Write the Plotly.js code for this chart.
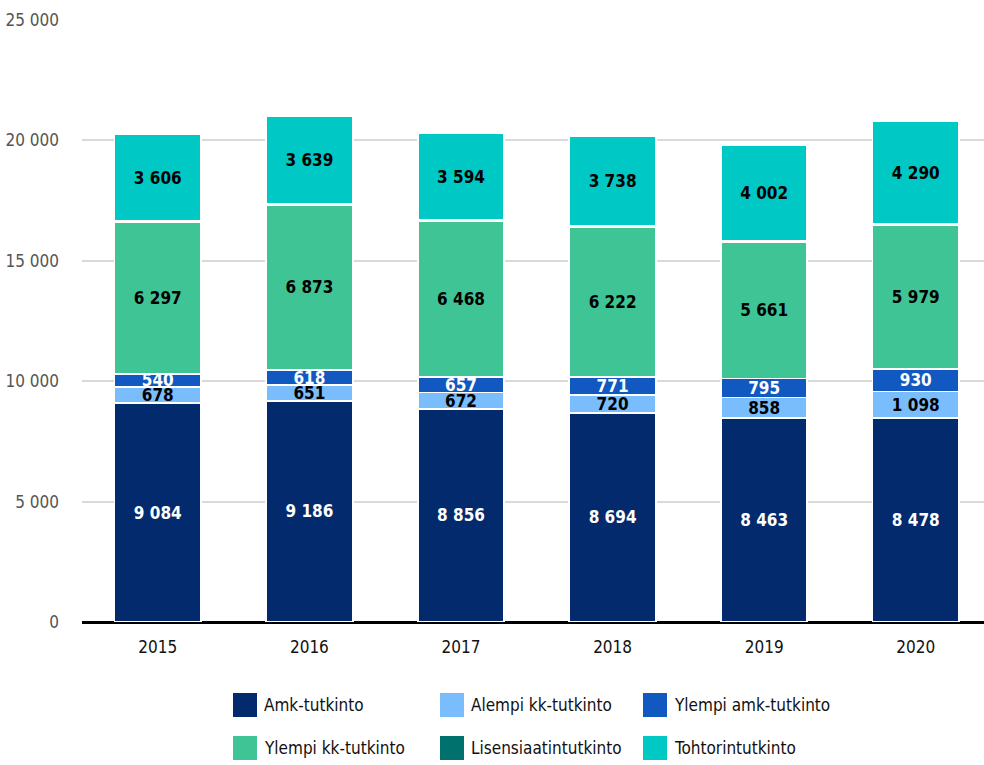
<!DOCTYPE html>
<html><head><meta charset="utf-8">
<script src="https://cdn.plot.ly/plotly-3.0.1.min.js"></script>
<style>html,body{margin:0;padding:0;background:#fff}#c{width:984px;height:765px}</style>
</head><body><div id="c"></div>
<script>
const years = ['2015','2016','2017','2018','2019','2020'];
const seriesNames = ['Amk-tutkinto','Alempi kk-tutkinto','Ylempi amk-tutkinto','Ylempi kk-tutkinto','Lisensiaatintutkinto','Tohtorintutkinto'];
const amk = [9084, 9186, 8856, 8694, 8463, 8478];
const alempiKk = [678, 651, 672, 720, 858, 1098];
const ylempiAmk = [540, 618, 657, 771, 795, 930];
const ylempiKk = [6297, 6873, 6468, 6222, 5661, 5979];
const lisensiaatti = [45, 40, 40, 35, 35, 30];
const tohtori = [3606, 3639, 3594, 3738, 4002, 4290];
const yTicks = [0, 5000, 10000, 15000, 20000, 25000];

const colors = ['#022a6c', '#7abdfd', '#1159c1', '#3fc595', '#00716c', '#00c8c5'];
const textColors = ['#ffffff', '#000000', '#ffffff', '#000000', '#000000', '#000000'];
const showText = [true, true, true, true, false, true];
const values = [amk, alempiKk, ylempiAmk, ylempiKk, lisensiaatti, tohtori];
const FONT = '"DejaVu Sans Condensed", "Liberation Sans Narrow", sans-serif';

const traces = values.map((v, i) => ({
  type: 'bar',
  name: seriesNames[i],
  x: years,
  y: v,
  marker: {color: colors[i], line: {color: '#ffffff', width: 1.8}},
  texttemplate: showText[i] ? '<b>%{y:,}</b>' : '',
  textposition: showText[i] ? 'inside' : 'none',
  insidetextanchor: 'middle',
  constraintext: 'none',
  textfont: {family: FONT, size: 17, color: textColors[i]},
  hoverinfo: 'x+y+name',
  showlegend: false
}));

// custom legend
const shapes = [];
const annotations = [];
const legX = [233, 440, 643];
const legY = [705, 748];
const W = 984, H = 765, L = 82, R = 0, T = 20, B = 143;
const pw = W - L - R, ph = H - T - B;
seriesNames.forEach((n, i) => {
  const col = i % 3, row = Math.floor(i / 3);
  const px = legX[col], py = legY[row];
  shapes.push({type: 'rect', xref: 'paper', yref: 'paper',
    x0: (px - L) / pw, x1: (px + 24 - L) / pw,
    y0: (H - B - (py + 12)) / ph, y1: (H - B - (py - 12)) / ph,
    fillcolor: colors[i], line: {width: 0}});
  annotations.push({xref: 'paper', yref: 'paper', x: (px + 29 - L) / pw, y: (H - B - py) / ph,
    xanchor: 'left', yanchor: 'middle', showarrow: false, text: n,
    font: {family: FONT, size: 17, color: '#111111'}});
});

const layout = {
  width: W, height: H,
  margin: {l: L, r: R, t: T, b: B},
  barmode: 'stack',
  bargap: 0.43,
  separators: ', ',
  paper_bgcolor: '#ffffff',
  plot_bgcolor: '#ffffff',
  font: {family: FONT},
  showlegend: false,
  xaxis: {
    type: 'category',
    range: [-0.5, 5.45],
    showgrid: false,
    showline: false,
    zeroline: false,
    ticks: '',
    tickfont: {family: FONT, size: 17, color: '#111111'},
    ticklabelstandoff: 13
  },
  yaxis: {
    range: [0, 25000],
    tickvals: yTicks,
    tickformat: ',',
    showgrid: true,
    gridcolor: '#d9d9d9',
    gridwidth: 2,
    zeroline: true,
    zerolinecolor: '#000000',
    zerolinewidth: 3,
    showline: false,
    ticks: '',
    ticklabelstandoff: 22,
    tickfont: {family: FONT, size: 17, color: '#555555'}
  },
  shapes: shapes,
  annotations: annotations
};

Plotly.newPlot('c', traces, layout, {displayModeBar: false, staticPlot: true});
</script>
</body></html>
